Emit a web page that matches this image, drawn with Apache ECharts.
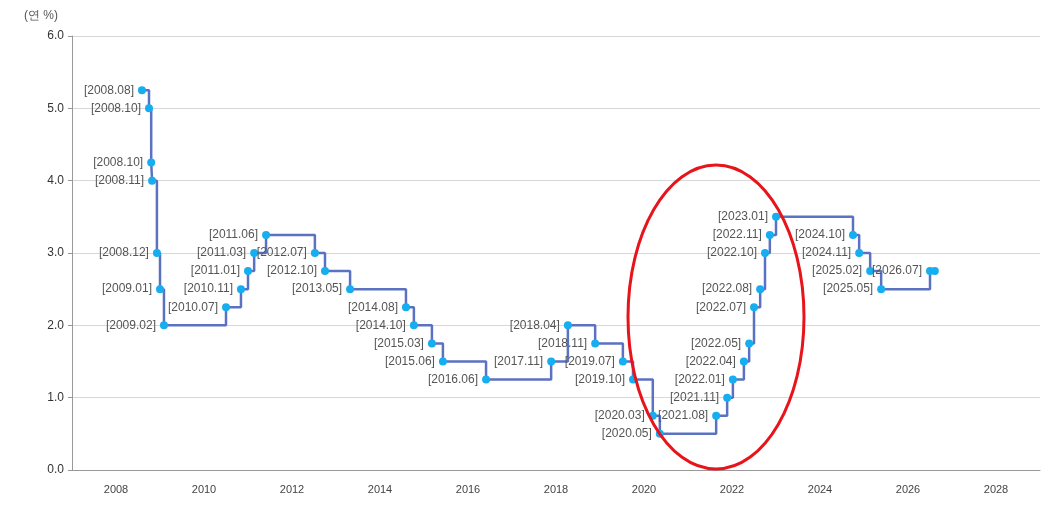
<!DOCTYPE html>
<html>
<head>
<meta charset="utf-8">
<script src="https://cdn.jsdelivr.net/npm/echarts@6/dist/echarts.min.js"></script>
<style>html,body{margin:0;padding:0;background:#fff}#c{width:1047px;height:519px}</style>
</head>
<body>
<div id="c"></div>
<script>
const dates = ['2008.08','2008.10','2008.10','2008.11','2008.12','2009.01','2009.02','2010.07','2010.11','2011.01','2011.03','2011.06','2012.07','2012.10','2013.05','2014.08','2014.10','2015.03','2015.06','2016.06','2017.11','2018.04','2018.11','2019.07','2019.10','2020.03','2020.05','2021.08','2021.11','2022.01','2022.04','2022.05','2022.07','2022.08','2022.10','2022.11','2023.01','2024.10','2024.11','2025.02','2025.05','2026.07','2026.07']
const years = [2008.59,2008.75,2008.80,2008.82,2008.93,2009.00,2009.09,2010.50,2010.84,2011.00,2011.14,2011.41,2012.52,2012.75,2013.32,2014.59,2014.77,2015.18,2015.43,2016.41,2017.89,2018.27,2018.89,2019.52,2019.75,2020.20,2020.36,2021.64,2021.89,2022.02,2022.27,2022.39,2022.50,2022.64,2022.75,2022.86,2023.00,2024.75,2024.89,2025.14,2025.39,2026.50,2026.61]
const rates = [5.25,5.00,4.25,4.00,3.00,2.50,2.00,2.25,2.50,2.75,3.00,3.25,3.00,2.75,2.50,2.25,2.00,1.75,1.50,1.25,1.50,2.00,1.75,1.50,1.25,0.75,0.50,0.75,1.00,1.25,1.50,1.75,2.25,2.50,3.00,3.25,3.50,3.25,3.00,2.75,2.50,2.75,2.75]
const xTicks = [2008,2010,2012,2014,2016,2018,2020,2022,2024,2026,2028]

const chart = echarts.init(document.getElementById('c'))
chart.setOption({
  animation: false,
  grid: { left: 72, right: 7, top: 36, bottom: 49 },
  xAxis: {
    type: 'value', min: 2007, max: 2029,
    axisLine: { lineStyle: { color: '#999' } },
    axisTick: { show: false },
    splitLine: { show: false },
    axisLabel: { customValues: xTicks, color: '#444', fontSize: 11, margin: 14, formatter: v => String(v) }
  },
  yAxis: {
    type: 'value', min: 0, max: 6, interval: 1,
    name: '(연 %)', nameLocation: 'end', nameGap: 14,
    nameTextStyle: { color: '#555', fontSize: 12, align: 'right', padding: [0, 14, 0, 0] },
    axisLine: { show: true, lineStyle: { color: '#999' } },
    axisTick: { show: true, length: 4, lineStyle: { color: '#999' } },
    splitLine: { lineStyle: { color: '#d8d8d8' } },
    axisLabel: { color: '#333', fontSize: 12, formatter: v => v.toFixed(1) }
  },
  series: [{
    type: 'line',
    step: 'end',
    data: years.map((y, i) => ({ value: [y, rates[i]], name: dates[i] })),
    lineStyle: { color: '#5b72c2', width: 2.5 },
    symbol: 'circle', symbolSize: 8,
    itemStyle: { color: '#16aef0' },
    label: {
      show: true, position: 'left', distance: 4,
      color: '#555', fontSize: 12,
      formatter: p => p.dataIndex === dates.length - 1 ? '' : '[' + p.name + ']'
    }
  }],
  graphic: [{
    type: 'ellipse',
    shape: { cx: 716, cy: 317, rx: 88, ry: 152 },
    style: { fill: 'none', stroke: '#e8141b', lineWidth: 3 },
    z: 100
  }]
})
</script>
</body>
</html>
